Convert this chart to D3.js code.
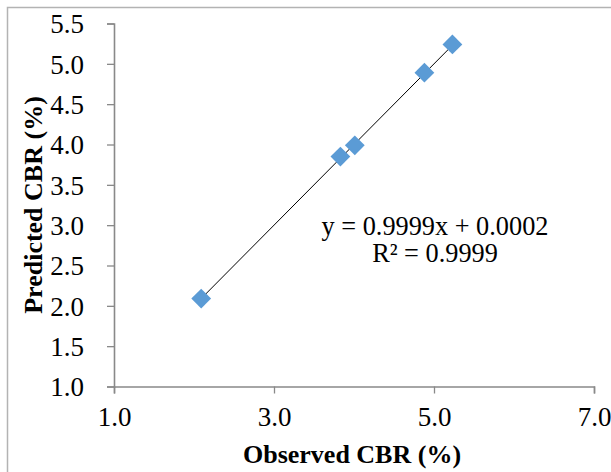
<!DOCTYPE html>
<html>
<head>
<meta charset="utf-8">
<script src="https://cdn.jsdelivr.net/npm/d3@7"></script>
<style>
  body { margin: 0; background: #fff; }
  svg text { font-family: "Liberation Serif", "Times New Roman", serif; fill: #000; }
</style>
</head>
<body>
<svg id="chart" width="611" height="472"></svg>
<script>
const observed = [2.09, 3.83, 4.01, 4.88, 5.23];
const predicted = [2.09, 3.85, 3.99, 4.89, 5.24];
const xTicks = [1, 3, 5, 7];
const yTicks = [1, 1.5, 2, 2.5, 3, 3.5, 4, 4.5, 5, 5.5];
const slope = 0.9999;
const intercept = 0.0002;
const eqLines = ['y = 0.9999x + 0.0002', 'R² = 0.9999'];

function drawChart() {
  const svg = d3.select('svg#chart');
  const left = 114, right = 594, top = 23.5, bottom = 386.5;
  const axisColor = '#898989';
  const serif = '"Liberation Serif", "Times New Roman", serif';

  // outer chart border (cut off on right/bottom like the source)
  svg.append('rect')
    .attr('x', 7.5).attr('y', 7.5)
    .attr('width', 640).attr('height', 500)
    .attr('fill', 'none')
    .attr('stroke', '#b3b3b3')
    .attr('stroke-width', 1.5);

  const x = d3.scaleLinear().domain([1, 7]).range([left, right]);
  const y = d3.scaleLinear().domain([1, 5.5]).range([bottom, top]);

  const xAxis = svg.append('g')
    .attr('transform', `translate(0,${bottom})`)
    .call(d3.axisBottom(x).tickValues(xTicks).tickSize(7).tickPadding(13)
      .tickFormat(d3.format('.1f')));
  const yAxis = svg.append('g')
    .attr('transform', `translate(${left},0)`)
    .call(d3.axisLeft(y).tickValues(yTicks).tickSize(7).tickPadding(23)
      .tickFormat(d3.format('.1f')));

  [xAxis, yAxis].forEach((g) => {
    g.attr('font-family', null).attr('font-size', null);
    g.select('.domain').attr('stroke', axisColor).attr('stroke-width', 1.6);
    g.selectAll('.tick line').attr('stroke', axisColor).attr('stroke-width', 1.3);
    g.selectAll('.tick text')
      .style('font-size', '27px')
      .style('font-family', serif)
      .attr('fill', '#000');
  });
  xAxis.selectAll('.tick text').attr('dy', '0.71em');
  yAxis.selectAll('.tick text').attr('dy', '0.34em');

  // linear trendline across the data range
  const xMin = d3.min(observed), xMax = d3.max(observed);
  svg.append('line')
    .attr('x1', x(xMin)).attr('y1', y(slope * xMin + intercept))
    .attr('x2', x(xMax)).attr('y2', y(slope * xMax + intercept))
    .attr('stroke', '#000')
    .attr('stroke-width', 1);

  const points = observed.map((v, i) => ({x: v, y: predicted[i]}));
  svg.selectAll('path.pt').data(points).enter()
    .append('path')
    .attr('class', 'pt')
    .attr('d', d3.symbol(d3.symbolSquare, 196))
    .attr('transform', (d) => `translate(${x(d.x)},${y(d.y)}) rotate(45)`)
    .attr('fill', '#5b9bd5');

  svg.selectAll('text.eq').data(eqLines).enter()
    .append('text')
    .attr('class', 'eq')
    .attr('x', 435)
    .attr('y', (d, i) => 235 + i * 27)
    .attr('text-anchor', 'middle')
    .style('font-size', '26.3px')
    .text((d) => d);

  svg.append('text')
    .attr('x', (left + right) / 2 - 2)
    .attr('y', 463)
    .attr('text-anchor', 'middle')
    .style('font-size', '26px')
    .style('font-weight', 'bold')
    .text('Observed CBR (%)');

  svg.append('text')
    .attr('transform', `translate(42,${(top + bottom) / 2}) rotate(-90)`)
    .attr('text-anchor', 'middle')
    .style('font-size', '26px')
    .style('font-weight', 'bold')
    .text('Predicted CBR (%)');
}

window.addEventListener('load', drawChart);
</script>
</body>
</html>
